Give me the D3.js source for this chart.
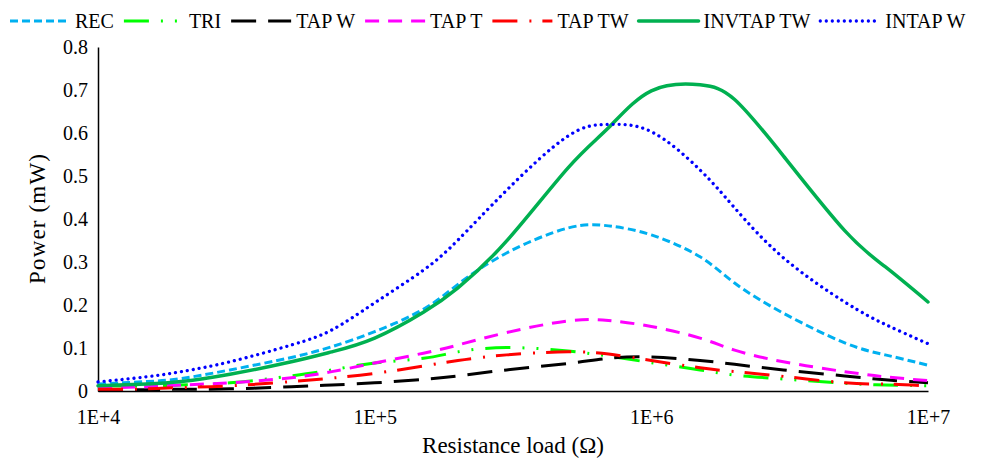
<!DOCTYPE html>
<html>
<head>
<meta charset="utf-8">
<script src="https://cdn.jsdelivr.net/npm/d3@7"></script>
<style>
  body { margin: 0; background: white; }
</style>
</head>
<body>
<script>
// Resistance load values (ohm) where power was read
const resistance = [1e4, 1.5e4, 2e4, 3e4, 5e4, 7e4, 1e5, 1.5e5, 2e5, 3e5, 5e5, 7e5, 1e6, 1.5e6, 2e6, 3e6, 5e6, 7e6, 1e7];

// Power (mW) for each waveform
const rec    = [0.016, 0.022, 0.029, 0.049, 0.078, 0.103, 0.138, 0.190, 0.248, 0.321, 0.379, 0.384, 0.363, 0.312, 0.251, 0.181, 0.112, 0.084, 0.060];
const tri    = [0.012, 0.012, 0.014, 0.019, 0.035, 0.049, 0.065, 0.076, 0.091, 0.101, 0.093, 0.081, 0.066, 0.049, 0.037, 0.028, 0.018, 0.014, 0.012];
const tapW   = [0.002, 0.003, 0.004, 0.005, 0.010, 0.014, 0.019, 0.027, 0.035, 0.049, 0.064, 0.076, 0.079, 0.071, 0.062, 0.049, 0.035, 0.026, 0.019];
const tapT   = [0.007, 0.010, 0.014, 0.019, 0.031, 0.045, 0.065, 0.088, 0.107, 0.136, 0.163, 0.164, 0.150, 0.123, 0.095, 0.068, 0.045, 0.033, 0.024];
const tapTW  = [0.004, 0.005, 0.008, 0.012, 0.022, 0.030, 0.041, 0.058, 0.071, 0.084, 0.091, 0.086, 0.071, 0.054, 0.045, 0.034, 0.019, 0.016, 0.012];
const invtapTW = [0.012, 0.016, 0.022, 0.039, 0.068, 0.091, 0.123, 0.183, 0.240, 0.349, 0.519, 0.612, 0.698, 0.712, 0.678, 0.547, 0.373, 0.289, 0.207];
const intapW = [0.021, 0.033, 0.045, 0.068, 0.107, 0.142, 0.205, 0.281, 0.351, 0.467, 0.593, 0.620, 0.603, 0.514, 0.426, 0.310, 0.207, 0.155, 0.110];

const seriesNames = ["REC", "TRI", "TAP W", "TAP T", "TAP TW", "INVTAP TW", "INTAP W"];
const seriesValues = [rec, tri, tapW, tapT, tapTW, invtapTW, intapW];

const xTicks = [1e4, 1e5, 1e6, 1e7];
const xTickLabels = ["1E+4", "1E+5", "1E+6", "1E+7"];
const yTicks = [0, 0.1, 0.2, 0.3, 0.4, 0.5, 0.6, 0.7, 0.8];
const yTickLabels = ["0", "0.1", "0.2", "0.3", "0.4", "0.5", "0.6", "0.7", "0.8"];

// line styles
const styles = [
  { color: "#00B0F0", width: 3, dash: "8,4", cap: "butt" },
  { color: "#00FF00", width: 3, dash: "25,12,2,12,2,12", cap: "butt" },
  { color: "#000000", width: 3, dash: "25,12", cap: "butt" },
  { color: "#FF00FF", width: 3, dash: "14,9", cap: "butt" },
  { color: "#FF0000", width: 3, dash: "25,12,2,11", cap: "butt" },
  { color: "#00B050", width: 3.5, dash: null, cap: "round" },
  { color: "#0000FF", width: 3.3, dash: "0.01,6", cap: "round" }
];

const font = "'Liberation Serif', 'Times New Roman', serif";

let width = 986;
let height = 458;
let marginTop = 47;
let marginRight = 58;
let marginBottom = 67;
let marginLeft = 98;

const x = d3.scaleLog()
    .domain([1e4, 1e7])
    .range([marginLeft, width - marginRight]);

const y = d3.scaleLinear()
    .domain([0, 0.8])
    .range([height - marginBottom, marginTop]);

const svg = d3.select("body").append("svg")
    .attr("width", width)
    .attr("height", height)
    .attr("viewBox", [0, 0, width, height])
    .attr("font-family", font)
    .style("display", "block");

// Axes
svg.append("g")
    .attr("transform", `translate(0,${height - marginBottom})`)
    .call(d3.axisBottom(x).tickValues(xTicks).tickFormat((d, i) => xTickLabels[i]).tickSize(0).tickPadding(19))
    .attr("font-family", font)
    .attr("font-size", 20)
    .call(g => g.select(".domain").attr("stroke", "#000").attr("stroke-width", 1.5))
    .call(g => g.selectAll("text").attr("fill", "#000"));

svg.append("g")
    .attr("transform", `translate(${marginLeft},0)`)
    .call(d3.axisLeft(y).tickValues(yTicks).tickFormat((d, i) => yTickLabels[i]).tickSize(0).tickPadding(10))
    .attr("font-family", font)
    .attr("font-size", 20)
    .call(g => g.select(".domain").attr("stroke", "#000").attr("stroke-width", 1.5))
    .call(g => g.selectAll("text").attr("fill", "#000"));

// Axis titles
svg.append("text")
    .attr("x", (width - marginLeft - marginRight) / 2 + marginLeft)
    .attr("y", 453)
    .attr("text-anchor", "middle")
    .attr("font-family", font)
    .attr("font-size", 23)
    .text("Resistance load (Ω)");

svg.append("text")
    .attr("transform", `translate(45,${(marginTop + height - marginBottom) / 2}) rotate(-90)`)
    .attr("text-anchor", "middle")
    .attr("font-family", font)
    .attr("font-size", 23)
    .attr("textLength", 130)
    .attr("lengthAdjust", "spacing")
    .text("Power (mW)");

// Lines
const line = d3.line()
    .x((d, i) => x(resistance[i]))
    .y(d => y(d))
    .curve(d3.curveNatural);

seriesValues.forEach((vals, k) => {
  const s = styles[k];
  svg.append("path")
      .datum(vals)
      .attr("fill", "none")
      .attr("stroke", s.color)
      .attr("stroke-width", s.width)
      .attr("stroke-dasharray", s.dash)
      .attr("stroke-linecap", s.cap)
      .attr("d", line);
});

// Legend
const legend = svg.append("g");
let lx = 10;
seriesNames.forEach((name, k) => {
  const s = styles[k];
  legend.append("line")
      .attr("x1", lx).attr("x2", lx + 60)
      .attr("y1", 21).attr("y2", 21)
      .attr("stroke", s.color)
      .attr("stroke-width", s.width)
      .attr("stroke-dasharray", s.dash)
      .attr("stroke-linecap", s.cap);
  const t = legend.append("text")
      .attr("x", lx + 65)
      .attr("y", 28)
      .attr("font-family", font)
      .attr("font-size", 20)
      .text(name);
  lx = lx + 65 + t.node().getComputedTextLength() + 10;
});
</script>
</body>
</html>
